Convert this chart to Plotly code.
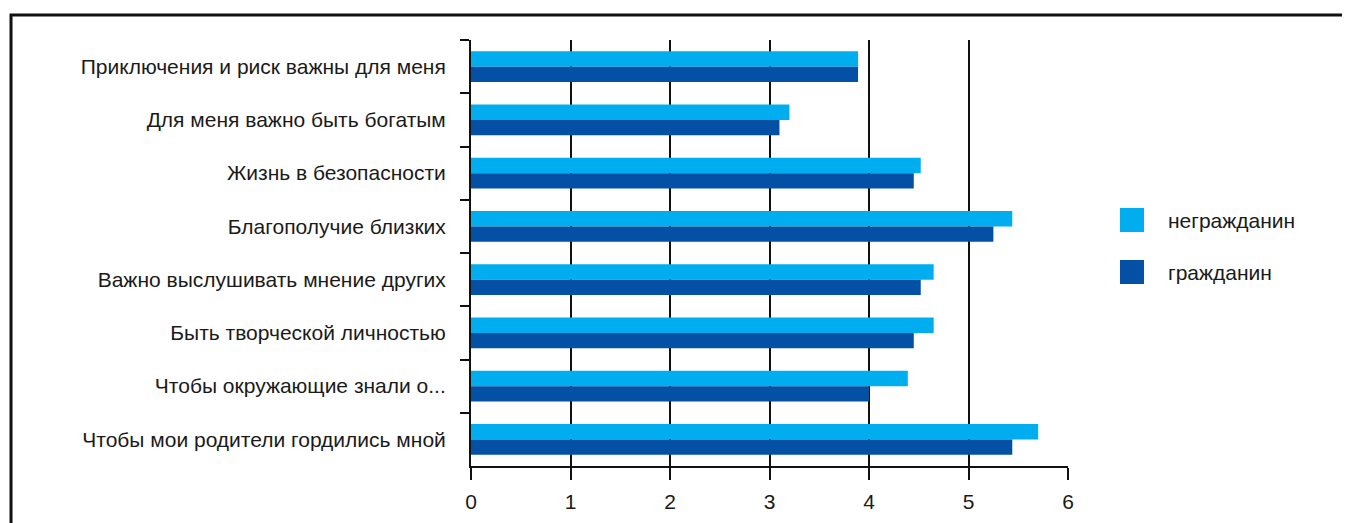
import plotly.graph_objects as go

categories = [
    "Приключения и риск важны для меня",
    "Для меня важно быть богатым",
    "Жизнь в безопасности",
    "Благополучие близких",
    "Важно выслушивать мнение других",
    "Быть творческой личностью",
    "Чтобы окружающие знали о...",
    "Чтобы мои родители гордились мной",
]
series_names = ["негражданин", "гражданин"]
noncitizen = [3.89, 3.2, 4.52, 5.44, 4.65, 4.65, 4.39, 5.70]
citizen = [3.89, 3.1, 4.45, 5.25, 4.52, 4.45, 4.0, 5.44]
x_ticks = [0, 1, 2, 3, 4, 5, 6]

colors = ["#00AEEF", "#0350A5"]
font_family = "Liberation Sans, Arial, sans-serif"

fig = go.Figure()
for name, vals, col in zip(series_names, [noncitizen, citizen], colors):
    fig.add_trace(go.Bar(y=categories, x=vals, name=name, orientation="h",
                         marker=dict(color=col, line=dict(width=0))))

# page body has an 8px margin: compensate
fig.update_layout(
    width=1350, height=523,
    margin=dict(l=463, r=290, t=32, b=65),
    paper_bgcolor="white", plot_bgcolor="white",
    barmode="group", bargap=0.42, bargroupgap=0,
    showlegend=False,
    font=dict(family=font_family, color="#1a1a1a"),
)
fig.update_xaxes(
    range=[0, 6], tickvals=x_ticks, showgrid=True, gridcolor="#111111", gridwidth=2,
    zeroline=False, showline=True, linecolor="#111111", linewidth=2,
    ticks="outside", ticklen=12, tickwidth=2, tickcolor="#111111",
    tickfont=dict(size=21, color="#1a1a1a"), ticklabelstandoff=4,
)
fig.update_yaxes(
    autorange="reversed", showline=True, linecolor="#111111", linewidth=2,
    ticks="outside", ticklen=9, tickwidth=2, tickcolor="#111111",
    tickson="boundaries", showgrid=False,
    tickfont=dict(size=21, color="#1a1a1a"), ticklabelstandoff=19,
)

# frame border
fig.add_shape(type="rect", xref="paper", yref="paper",
              x0=-0.7705, x1=2.0, y0=-1.0, y1=1.0587,
              line=dict(color="#111111", width=3), fillcolor="rgba(0,0,0,0)", layer="below")

# manual legend
leg_y = [1 - (220 - 40) / 426, 1 - (272 - 40) / 426]
sw_h = 24 / 426
for name, col, yc in zip(series_names, colors, leg_y):
    fig.add_shape(type="rect", xref="paper", yref="paper",
                  x0=(1120 - 471) / 597, x1=(1144 - 471) / 597,
                  y0=yc - sw_h / 2, y1=yc + sw_h / 2,
                  fillcolor=col, line=dict(width=0))
    fig.add_annotation(xref="paper", yref="paper", x=(1166 - 471) / 597, y=yc,
                       text=name, showarrow=False, xanchor="left", yanchor="middle",
                       font=dict(size=21, color="#1a1a1a", family=font_family))

fig.write_html("out.html")
